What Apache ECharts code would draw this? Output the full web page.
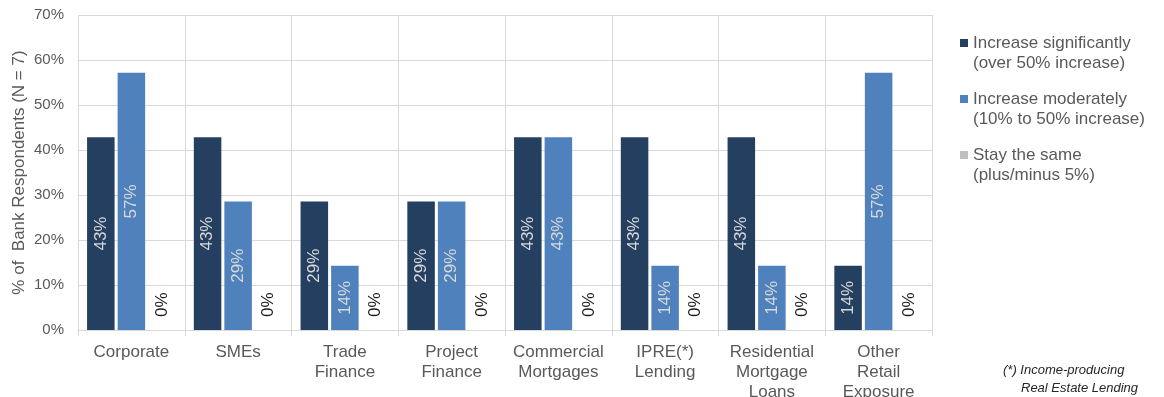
<!DOCTYPE html>
<html>
<head>
<meta charset="utf-8">
<script src="https://cdn.jsdelivr.net/npm/echarts@6/dist/echarts.min.js"></script>
<style>
  html, body { margin: 0; padding: 0; background: #ffffff; }
  #chart { width: 1164px; height: 397px; }
</style>
</head>
<body>
<div id="chart"></div>
<script>
// Expected change in lending by portfolio (share of 7 bank respondents)
const categories = [
  'Corporate', 'SMEs', 'Trade\nFinance', 'Project\nFinance',
  'Commercial\nMortgages', 'IPRE(*)\nLending', 'Residential\nMortgage\nLoans', 'Other\nRetail\nExposure'
];
const seriesNames = [
  'Increase significantly\n(over 50% increase)',
  'Increase moderately\n(10% to 50% increase)',
  'Stay the same\n(plus/minus 5%)'
];
const increaseSignificantly = [42.86, 42.86, 28.57, 28.57, 42.86, 42.86, 42.86, 14.29];
const increaseModerately    = [57.14, 28.57, 14.29, 28.57, 42.86, 14.29, 14.29, 57.14];
const staySame              = [0, 0, 0, 0, 0, 0, 0, 0];
const yTicks = [0, 10, 20, 30, 40, 50, 60, 70];

const FONT = 'Liberation Sans, Arial, sans-serif';
const GRID_COLOR = '#D9D9D9';
const TEXT_COLOR = '#595959';
const pct = p => Math.round(p.value) + '%';

// Legend swatch: a square at the top of a taller box, so it sits beside the first text line
const SWATCH = 'path://M0,0L8,0L8,8L0,8Z M0,28L0,28Z';

const insideLabel = {
  show: true, position: 'inside', rotate: 90,
  formatter: pct, color: '#D9D9D9', fontSize: 17, fontFamily: FONT
};

const chart = echarts.init(document.getElementById('chart'), null, { renderer: 'canvas' });
chart.setOption({
  animation: false,
  textStyle: { fontFamily: FONT },
  grid: { left: 78, right: 232, top: 15, bottom: 67, containLabel: false, outerBoundsMode: 'none' },
  legend: {
    orient: 'vertical', left: 960, top: 33, padding: 0,
    itemWidth: 8, itemHeight: 28, itemGap: 16,
    selectedMode: false,
    icon: SWATCH,
    itemStyle: { borderWidth: 0 },
    data: seriesNames,
    textStyle: { fontSize: 17, lineHeight: 20, color: TEXT_COLOR, fontFamily: FONT }
  },
  xAxis: {
    type: 'category',
    data: categories,
    axisLine: { show: true, lineStyle: { color: GRID_COLOR } },
    axisTick: { show: true, interval: 0, length: 6, lineStyle: { color: GRID_COLOR } },
    splitLine: { show: true, interval: 0, lineStyle: { color: GRID_COLOR } },
    axisLabel: { interval: 0, fontSize: 17, lineHeight: 20, color: TEXT_COLOR, margin: 12, fontFamily: FONT }
  },
  yAxis: {
    type: 'value',
    min: yTicks[0], max: yTicks[yTicks.length - 1], interval: 10,
    name: '% of  Bank Respondents (N = 7)',
    nameLocation: 'middle', nameGap: 50, nameRotate: 90, nameMoveOverlap: false,
    nameTextStyle: { fontSize: 17, color: TEXT_COLOR, fontFamily: FONT },
    axisLine: { show: false },
    axisTick: { show: false },
    splitLine: { show: true, lineStyle: { color: GRID_COLOR } },
    axisLabel: { formatter: '{value}%', fontSize: 15, color: TEXT_COLOR, margin: 14, fontFamily: FONT }
  },
  series: [
    {
      name: seriesNames[0], type: 'bar', data: increaseSignificantly,
      barCategoryGap: '17%', barGap: '11%',
      itemStyle: { color: '#243F60' },
      label: insideLabel
    },
    {
      name: seriesNames[1], type: 'bar', data: increaseModerately,
      itemStyle: { color: '#4F81BD' },
      label: insideLabel
    },
    {
      name: seriesNames[2], type: 'bar', data: staySame,
      itemStyle: { color: '#BFBFBF' },
      label: {
        show: true, position: 'insideBottom', distance: 13, rotate: 90,
        align: 'left', verticalAlign: 'middle',
        formatter: pct, color: '#1a1a1a', fontSize: 17, fontFamily: FONT
      }
    }
  ],
  graphic: [
    { type: 'text', left: 1003, top: 364,
      style: { text: '(*) Income-producing', font: 'italic 13px ' + FONT, fill: '#262626' } },
    { type: 'text', left: 1021, top: 382,
      style: { text: 'Real Estate Lending', font: 'italic 13px ' + FONT, fill: '#262626' } }
  ]
});
</script>
</body>
</html>
